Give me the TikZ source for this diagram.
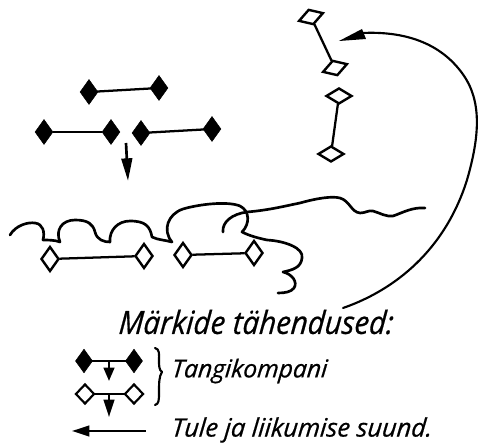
\documentclass[tikz,border=0pt]{standalone}
\usepackage{fontspec}
\setmainfont{Open Sans}[ItalicFeatures={FakeBold=0.6,FakeSlant=0.08}]
\usetikzlibrary{shapes.geometric,arrows.meta}
\tikzset{
 full/.style={diamond,fill=black,draw=black,line width=0.4pt,inner sep=0pt,minimum width=#1*18pt*0.75,minimum height=#1*25pt*0.75},
 full/.default=1,
 hollow/.style={diamond,fill=white,draw=black,line width=1.8pt,inner sep=0pt,minimum width=18pt*0.75,minimum height=25pt*0.75},
 small/.style={diamond,fill=white,draw=black,line width=1.6pt,inner sep=0pt,minimum width=19pt*0.75,minimum height=20pt*0.75},
 flat/.style={diamond,fill=white,draw=black,line width=1.8pt,inner sep=0pt,minimum width=26pt*0.75,minimum height=16pt*0.75},
 link/.style={line width=1.7pt,shorten >=-0.5pt,shorten <=-0.5pt},
 ink/.style={line width=2pt,line cap=round,line join=round},
 fine/.style={line width=1.6pt,line cap=round,line join=round},
 lbl/.style={anchor=west,inner sep=0pt,text=black},
 head/.style={-{Triangle[length=#1pt,width=8pt]}},
}
\begin{document}
\begin{tikzpicture}[x=0.75pt,y=-0.75pt]
\useasboundingbox (0,0) rectangle (480,445);
% filled groups
\node[full] (a1) at (89,92) {};
\node[full] (a2) at (159,88) {};
\node[full] (b1) at (44,132) {};
\node[full] (b2) at (111,132) {};
\node[full] (c1) at (141,133) {};
\node[full] (c2) at (212,129) {};
\draw[link] (a1) -- (a2);
\draw[link] (b1) -- (b2);
\draw[link] (c1) -- (c2);
\coordinate (m0) at (126,143);
\coordinate (m1) at (128,181);
\draw[line width=2pt,head=17] (m0) -- (m1);
% hollow on coast
\node[hollow] (d1) at (50,259) {};
\node[hollow] (d2) at (144,256) {};
\node[hollow] (e1) at (183,255) {};
\node[hollow] (e2) at (254,253) {};
\draw[link] (d1) -- (d2);
\draw[link] (e1) -- (e2);
% top right
\node[flat,rotate=18] (f1) at (311,17) {};
\node[flat,rotate=18] (f2) at (335,68) {};
\node[flat] (g1) at (339,96) {};
\node[flat] (g2) at (331,154) {};
\draw[link] (f1) -- (f2);
\draw[link] (g1) -- (g2);
% big arc
\coordinate (r0) at (343,308);
\coordinate (r1) at (339,41);
\draw[fine] (r0) .. controls (395,290) and (445,250) .. (467,180)
  .. controls (480,135) and (482,100) .. (462,73)
  .. controls (440,43) and (405,31) .. (362,33);
\fill (r1) -- (362,29) -- (366,39) -- cycle;
% coast
\draw[ink] (10,235) .. controls (16,225) and (28,222) .. (35,223)
  .. controls (43,224) and (45,232) .. (43,240)
  .. controls (48,240) and (55,240) .. (60,242)
  .. controls (55,230) and (62,220) .. (75,220)
  .. controls (88,220) and (93,224) .. (95,232)
  .. controls (97,240) and (104,242) .. (110,242)
  .. controls (109,230) and (118,221) .. (130,221)
  .. controls (145,221) and (150,226) .. (152,237)
  .. controls (158,240) and (165,240) .. (172,242)
  .. controls (162,230) and (168,214) .. (183,209)
  .. controls (200,204) and (228,201) .. (240,206)
  .. controls (250,211) and (250,224) .. (242,232)
  .. controls (250,236) and (258,238) .. (267,240)
  .. controls (285,241) and (304,248) .. (302,258)
  .. controls (301,268) and (292,270) .. (283,272)
  .. controls (292,274) and (298,282) .. (294,288)
  .. controls (291,292) and (285,293) .. (278,293);
\draw[ink] (223,232) .. controls (222,222) and (232,214) .. (247,212)
  .. controls (270,210) and (285,206) .. (300,203)
  .. controls (318,198) and (332,196) .. (340,198)
  .. controls (350,201) and (351,212) .. (360,213)
  .. controls (366,213) and (368,210) .. (373,211)
  .. controls (380,213) and (386,217) .. (393,216)
  .. controls (402,213) and (412,207) .. (425,208);
% legend
\node[lbl,xscale=0.92,font=\itshape\fontsize{24}{28}\selectfont] (t1) at (118,322) {Märkide tähendused:};
\node[full=0.95] (h1) at (84,361) {};
\node[full=0.95] (h2) at (134,361) {};
\draw[link] (h1) -- (h2);
\coordinate (h3) at (109,361);
\coordinate (h4) at (109,381);
\draw[line width=1.6pt,head=10] (h3) -- (h4);
\node[small] (k1) at (85,394) {};
\node[small] (k2) at (134,394) {};
\draw[link] (k1) -- (k2);
\coordinate (k3) at (109,394);
\coordinate (k4) at (109,417);
\draw[line width=1.6pt,head=13] (k3) -- (k4);
\coordinate (q0) at (155,348);
\coordinate (q1) at (162,372);
\coordinate (q2) at (155,405);
\draw[fine] (q0) .. controls (160,349) and (159,355) .. (159,360) .. controls (159,366) and (159,370) .. (q1)
  .. controls (159,376) and (159,384) .. (159,392) .. controls (159,400) and (159,404) .. (q2);
\node[lbl,font=\itshape\fontsize{18.5}{22}\selectfont] (t2) at (171,371) {Tangikompani};
\coordinate (s0) at (146,431);
\coordinate (s1) at (72,431);
\draw[line width=1.6pt,head=13] (s0) -- (s1);
\node[lbl,font=\itshape\fontsize{19}{22}\selectfont] (t3) at (171,430) {Tule ja liikumise suund.};
\end{tikzpicture}
\end{document}
